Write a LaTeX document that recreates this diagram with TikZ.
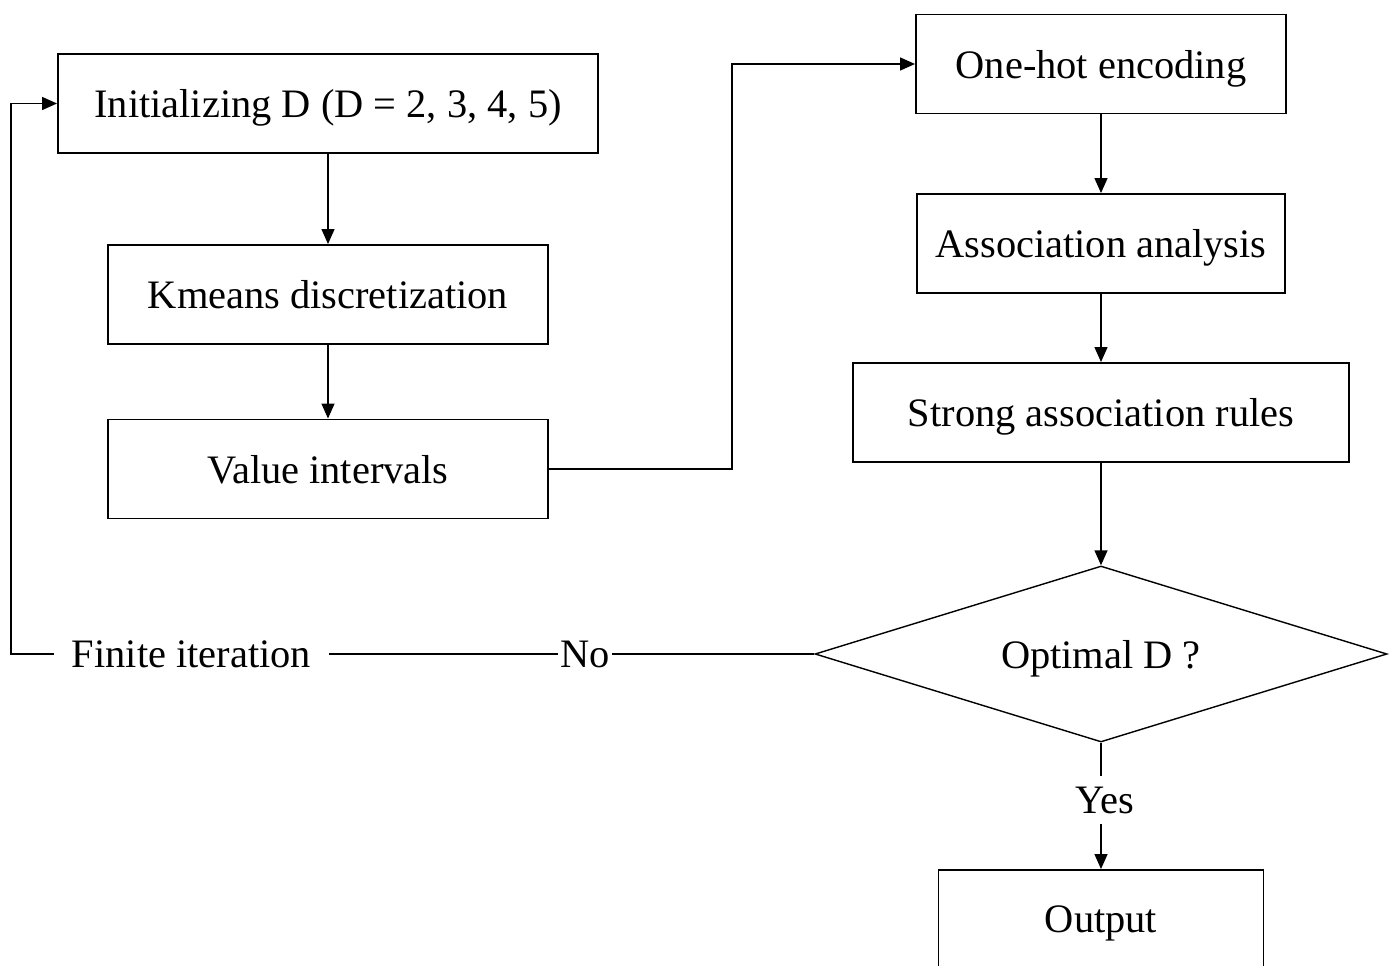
\documentclass[tikz,border=0pt]{standalone}
\usepackage{fontspec}
\setmainfont{Liberation Serif}
\usetikzlibrary{arrows.meta,shapes.geometric}
\begin{document}
\begin{tikzpicture}[
    stepbox/.style={draw, line width=1.1pt, minimum height=1.98cm, inner sep=0pt, text depth=0pt},
    flow/.style={-{Triangle[length=.3cm,width=.26cm]}, line width=.8pt},
    font=\fontsize{23}{27}\selectfont]
    \useasboundingbox (0,0) rectangle (27.86,-19.32);

    % left column
    \node[stepbox, minimum width=10.8cm] (init) at (6.56,-2.07) {Initializing D (D = 2, 3, 4, 5)};
    \node[stepbox, minimum width=8.8cm] (kmeans) at (6.56,-5.89) {Kmeans discretization};
    \node[stepbox, minimum width=8.8cm] (value) at (6.56,-9.38) {Value intervals};

    % right column
    \node[stepbox, minimum width=7.4cm] (onehot) at (22.02,-1.28) {One-hot encoding};
    \node[stepbox, minimum width=7.36cm] (assoc) at (22.02,-4.87) {Association analysis};
    \node[stepbox, minimum width=9.92cm] (strong) at (22.02,-8.25) {Strong association rules};
    \node[draw, diamond, aspect=3.25, line width=.8pt, inner sep=0pt, text depth=0pt,
      minimum width=11.44cm, minimum height=3.52cm] (optimal) at (22.02,-13.08) {Optimal D ?};
    \node[stepbox, minimum width=6.5cm] (output) at (22.02,-18.39) {Output};

    % labels on the loop
    \node[inner xsep=.35cm] (finite) at (3.83,-13.08) {Finite iteration};
    \node[inner xsep=1pt] (no) at (11.7,-13.08) {No};
    \node[inner ysep=.2cm] (yes) at (22.1,-16.0) {Yes};

    \draw[flow] (init) -- (kmeans);
    \draw[flow] (kmeans) -- (value);
    \draw[flow] (value.east) -- ++(3.66,0) |- (onehot.west);
    \draw[flow] (onehot) -- (assoc);
    \draw[flow] (assoc) -- (strong);
    \draw[flow] (strong) -- (optimal);
    \draw[line width=.8pt] (optimal.west) -- (no);
    \draw[line width=.8pt] (no) -- (finite);
    \draw[flow] (finite.west) -- ++(-.86,0) |- (init.west);
    \draw[line width=.8pt] (optimal.south) -- (optimal.south |- yes.north);
    \draw[flow] (yes.south -| optimal.south) -- (output);
  \end{tikzpicture}
\end{document}
